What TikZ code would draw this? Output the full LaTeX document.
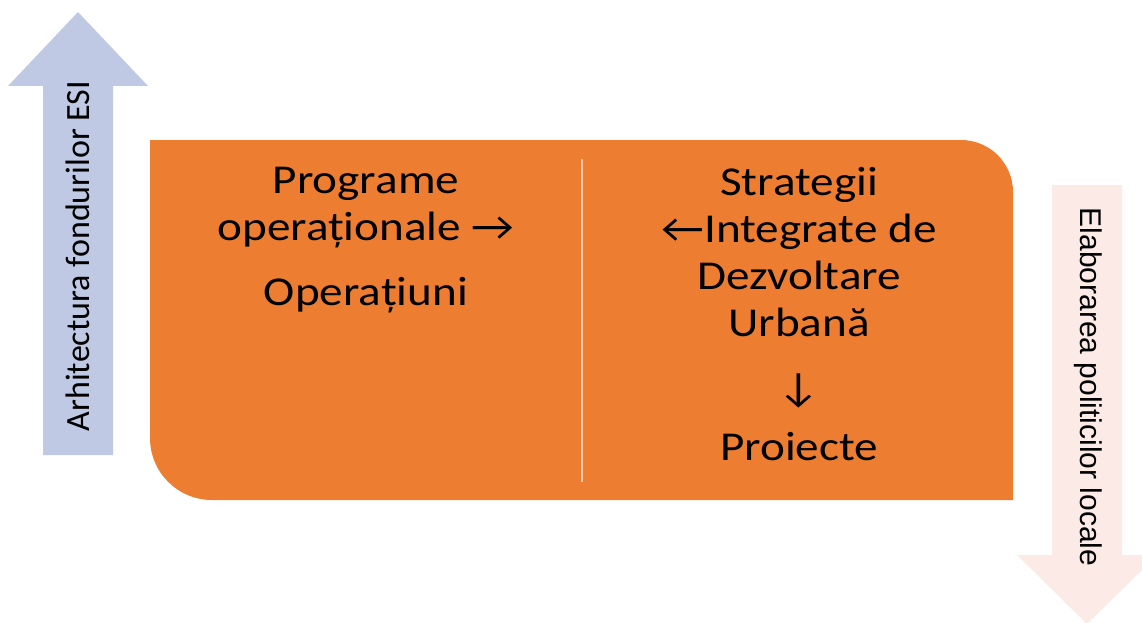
\documentclass[tikz,border=0pt]{standalone}
\usepackage{fontspec}
\setmainfont{Carlito}
\newfontfamily\blockfont[FakeStretch=1.15]{Carlito}
\newfontfamily\arialfont{Liberation Sans}
\usetikzlibrary{positioning}

\definecolor{boxorange}{HTML}{ED7D31}
\definecolor{upblue}{HTML}{BFC9E4}
\definecolor{downpink}{HTML}{FBEAE6}

\begin{document}
\begin{tikzpicture}[
  x=1pt, y=-1pt,
  blocktext/.style={align=center, inner sep=0pt, font=\blockfont\fontsize{41}{47}\selectfont},
  sidetext/.style={inner sep=0pt, font=\fontsize{34}{40}\selectfont}
]
\useasboundingbox (0,0) rectangle (1142,623);

% side arrows
\fill[upblue] (43,455) -- (43,86) -- (8,86) -- (78,12) -- (148,86) -- (113,86) -- (113,455) -- cycle;
\fill[downpink] (1052,185) -- (1052,555) -- (1017,555) -- (1087,624) -- (1157,555) -- (1122,555) -- (1122,185) -- cycle;

% main box
\fill[boxorange] (150,140) -- (961,140) arc[start angle=-90, end angle=0, radius=52]
  -- (1013,500) -- (212,500) arc[start angle=90, end angle=180, radius=62] -- cycle;
\coordinate (divtop) at (582,159);
\coordinate (divbot) at (582,482);
\draw[white, opacity=0.6, line width=2.5pt] (divtop) -- (divbot);

\node[sidetext, rotate=90] (esi) at (78,256) {Arhitectura fondurilor ESI};
\node[sidetext, rotate=-90, font=\arialfont\fontsize{30}{34}\selectfont] (local) at (1088,387) {Elaborarea politicilor locale};

\node[blocktext, anchor=north] (progr) at (366,167) {Programe\\operaționale →\\[18pt]Operațiuni};
\node[blocktext, anchor=north] (strat) at (799,167) {Strategii\\←Integrate de\\Dezvoltare\\Urbană\\[18pt]↓\\[12pt]Proiecte};
\end{tikzpicture}
\end{document}
